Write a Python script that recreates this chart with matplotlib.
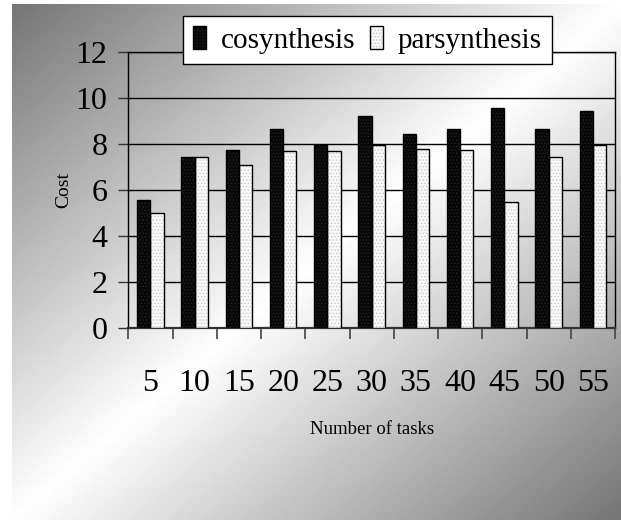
import numpy as np
import matplotlib
matplotlib.use("Agg")
import matplotlib.pyplot as plt
from matplotlib.legend_handler import HandlerTuple

plt.rcParams['font.family'] = ['Liberation Serif', 'DejaVu Serif']
plt.rcParams['hatch.linewidth'] = 0.5

# cost per task count
tasks = [5, 10, 15, 20, 25, 30, 35, 40, 45, 50, 55]
cosynthesis = [5.6, 7.45, 7.75, 8.65, 7.95, 9.25, 8.45, 8.65, 9.6, 8.65, 9.45]
parsynthesis = [5.0, 7.45, 7.1, 7.7, 7.7, 7.95, 7.8, 7.75, 5.5, 7.45, 7.95]

W, H = 621, 523
fig = plt.figure(figsize=(W / 100, H / 100), dpi=100)
fig.patch.set_facecolor('white')

# diagonal grey -> white -> grey backdrop
bg = fig.add_axes([0, 0, 1, 1], zorder=-10)
bg.set_xlim(0, W)
bg.set_ylim(H, 0)
bg.axis('off')
gx, gy = np.meshgrid(np.linspace(0, 1, 400), np.linspace(0, 1, 400))
t = (gx + gy) / 2
shade = 1 - 0.54 * np.abs(2 * t - 1)
bg.imshow(shade, cmap='gray', vmin=0, vmax=1, extent=(12, W, 520, 4),
          aspect='auto', interpolation='bilinear')

ax = fig.add_axes([128.3 / W, 1 - 328.3 / H, (615 - 128.3) / W, (328.3 - 52.3) / H])
ax.set_facecolor('none')

x = np.arange(len(tasks))
bw = 0.3

cos_fill = ax.bar(x - bw / 2, cosynthesis, bw, color='#080808', edgecolor='#262626',
                  linewidth=0, hatch='.....', zorder=3)
cos_edge = ax.bar(x - bw / 2, cosynthesis, bw, facecolor='none', edgecolor='black',
                  linewidth=1.0, zorder=4)
par_fill = ax.bar(x + bw / 2, parsynthesis, bw, color='#f8f8f8', edgecolor='#c4c4c4',
                  linewidth=0, hatch='.....', zorder=3)
par_edge = ax.bar(x + bw / 2, parsynthesis, bw, facecolor='none', edgecolor='black',
                  linewidth=1.0, zorder=4)

ax.set_ylim(0, 12)
ax.set_yticks(range(0, 13, 2))
ax.set_xlim(-0.5, len(tasks) - 0.5)
ax.set_xticks(x)
ax.set_xticklabels([str(v) for v in tasks])
ax.set_xticks(np.arange(len(tasks) + 1) - 0.5, minor=True)

ax.grid(axis='y', color='black', linewidth=1.0, zorder=1)
ax.set_axisbelow(True)

for s in ax.spines.values():
    s.set_color('black')
    s.set_linewidth(1.0)
ax.spines['bottom'].set_color('#333333')
ax.spines['bottom'].set_linewidth(1.6)

ax.tick_params(axis='x', which='major', length=0, pad=29, labelsize=23)
ax.tick_params(axis='x', which='minor', length=8, width=1.2, color='#444444')
ax.tick_params(axis='y', length=7, width=1.0, color='#333333', pad=8, labelsize=23)

ax.set_xlabel('Number of tasks', fontsize=13.5)
ax.xaxis.set_label_coords(0.5, -0.335)
ax.set_ylabel('Cost', fontsize=14)
ax.yaxis.set_label_coords(-0.115, 0.5)

leg = fig.legend([(cos_fill, cos_edge), (par_fill, par_edge)], ['cosynthesis', 'parsynthesis'],
                 handler_map={tuple: HandlerTuple(ndivide=1)},
                 loc='center', bbox_to_anchor=(367.5 / W, 1 - 40 / H), ncol=2,
                 fontsize=21, handlelength=0.45, handleheight=0.8, handletextpad=0.5,
                 columnspacing=0.5, borderpad=0.35, fancybox=False, framealpha=1)
leg.get_frame().set_edgecolor('black')
leg.get_frame().set_linewidth(1.0)

fig.savefig('out.png', dpi=100)
